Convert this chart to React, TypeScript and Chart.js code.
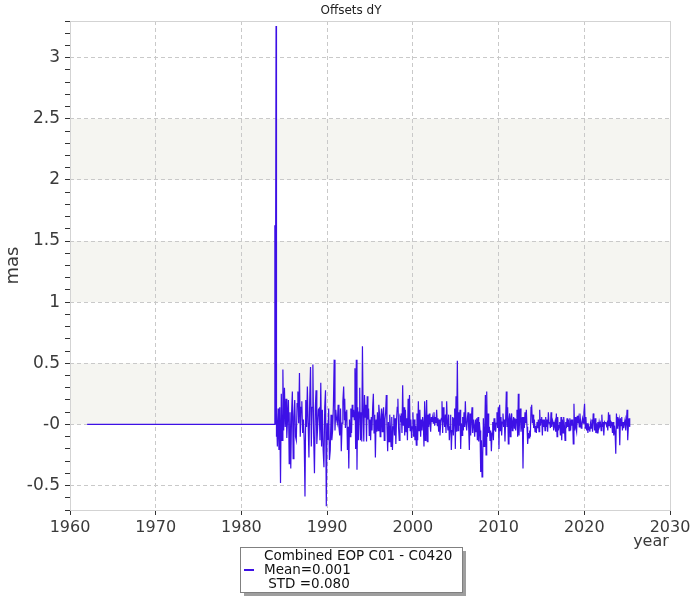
import React, { useEffect, useRef } from "react";
import { Chart, registerables } from "chart.js";

Chart.register(...registerables);

// ---- data ----
const titleText = "Offsets dY";
const yAxisTitle = "mas";
const xAxisTitle = "year";
const legendLines = ["Combined EOP C01 - C0420", "Mean=0.001", " STD =0.080"];

const xMin = 1960;
const xMax = 2030;
const xStep = 10;
const yMin = -0.7;
const yMax = 3.3;
const yMinorStep = 0.1;
const yMajorValues = [-0.5, 0, 0.5, 1, 1.5, 2, 2.5, 3];
const yMajorLabels = ["-0.5", "-0", "0.5", "1", "1.5", "2", "2.5", "3"];

const bandLows = [0, 1, 2];
const bandHighs = [0.5, 1.5, 2.5];

const flatYears = [1962.0, 1983.88];
const flatValues = [0, 0];

const spikeYears = [1983.9, 1983.95, 1984.04, 1984.08];
const spikeValues = [1.63, 0.0, 3.26, -0.1];

const seg1Range = [1984.1, 1992.02];
const seg1Values = [
  0.1, -0.18, 0.13, -0.21, 0.14, -0.48, 0.25, -0.13, 0.45, -0.05, 0.3, -0.02, 0.21, -0.11, 0.06,
  0.2, -0.32, 0.1, -0.36, 0.09, 0.27, -0.28, 0.06, 0.2, -0.1, -0.13, 0.17, 0.27, 0.01, 0.42,
  -0.1, 0.14, 0.19, -0.07, 0.04, -0.13, -0.59, 0.2, -0.02, 0.31, 0.01, -0.27, 0.2, 0.47, -0.18,
  0.14, 0.49, -0.1, -0.4, 0.12, 0.28, -0.16, -0.03, 0.12, 0.13, -0.13, 0.34, -0.18, 0.12, -0.21,
  -0.35, 0.14, 0.28, -0.67, 0.01, -0.13, 0.13, -0.29, -0.21, 0.08, -0.13, -0.05, 0.16, 0.53, -0.05,
  0.12, 0.04, 0.01, 0.16, -0.02, -0.09, 0.13, -0.22, 0.01, 0.19, 0.31, 0.04,
];

const seg2Range = [1992.05, 2000.8];
const seg2Values = [
  0.21, -0.03, 0.1, 0.12, -0.21, -0.02, -0.36, 0.04, -0.1, 0.13, -0.07, 0.16, 0.06, 0.12, 0.04,
  0.46, -0.2, 0.53, -0.37, 0.14, -0.13, 0.1, 0.3, -0.13, 0.1, -0.14, 0.64, 0.09, -0.14, 0.24,
  0.06, 0.16, -0.14, 0.23, 0.04, 0.13, -0.09, 0.04, -0.13, 0.06, -0.05, 0.14, 0.25, -0.07, 0.08,
  -0.27, 0.04, -0.06, 0.1, -0.05, 0.16, 0.09, -0.1, 0.04, 0.13, -0.06, 0.08, 0.14, -0.13, 0.04,
  0.1, 0.24, -0.02, -0.22, 0.02, -0.14, 0.08, -0.02, -0.18, 0.06, -0.21, -0.02, 0.08, -0.09, 0.05,
  -0.16, 0.04, 0.14, 0.21, -0.03, -0.13, 0.06, 0.04, 0.09, -0.07, 0.32, -0.01, 0.14, -0.09, 0.12,
  -0.06, 0.05, -0.13, 0.21, -0.03, 0.24, -0.05, 0.04, -0.11, -0.02, 0.1, -0.1, 0.04, -0.13, -0.01,
  -0.17, 0.09, -0.13, 0.19, -0.05, 0.12,
];

const seg3Range = [2000.83, 2009.55];
const seg3Values = [
  0.12, -0.1, 0.04, -0.05, 0.06, 0.01, -0.18, 0.19, -0.13, 0.04, 0.2, -0.14, 0.08, -0.02, 0.09,
  0.01, -0.06, 0.06, 0.02, 0.06, 0.01, 0.1, -0.01, 0.06, 0.01, 0.12, -0.01, 0.05, -0.06, 0.04,
  -0.09, 0.01, 0.05, 0.19, -0.07, 0.14, 0.04, -0.02, 0.08, -0.07, 0.19, 0.01, -0.05, 0.08, -0.13,
  -0.02, 0.08, -0.21, -0.05, 0.06, -0.09, 0.05, 0.13, -0.2, 0.23, -0.06, 0.52, -0.05, 0.1, -0.01,
  0.12, -0.2, 0.01, -0.09, 0.06, -0.05, 0.1, -0.02, 0.19, 0.01, -0.05, 0.05, 0.1, -0.03, -0.21,
  0.09, -0.09, 0.04, 0.14, -0.07, 0.04, -0.01, -0.1, 0.04, -0.06, 0.05, -0.13, 0.06, -0.14, 0.02,
  -0.05, -0.39, -0.13, -0.43, -0.27, 0.05, -0.18, -0.07, 0.24, -0.25, 0.27, -0.1, 0.09, -0.07, -0.02,
  -0.13, -0.05, -0.22, -0.07, 0.02, -0.13, 0.05, -0.05,
];

const seg4Range = [2009.58, 2018.3];
const seg4Values = [
  0.04, -0.06, 0.01, 0.1, -0.03, 0.14, -0.2, 0.16, -0.05, 0.06, -0.09, 0.02, 0.09, -0.02, 0.04,
  -0.14, 0.04, 0.27, -0.02, 0.14, -0.16, 0.04, 0.09, -0.1, 0.05, 0.09, -0.05, 0.02, 0.06, -0.03,
  0.05, -0.05, 0.04, 0.12, -0.1, 0.25, -0.09, 0.05, 0.13, -0.06, 0.01, 0.06, -0.36, 0.06, -0.03,
  0.1, 0.01, 0.12, -0.02, -0.16, -0.07, -0.11, -0.05, -0.1, 0.14, 0.16, 0.01, 0.08, -0.03, 0.04,
  -0.06, -0.01, -0.07, 0.02, -0.03, 0.04, -0.06, 0.12, -0.01, 0.04, 0.06, -0.09, 0.04, -0.02, 0.04,
  -0.05, 0.06, -0.02, 0.04, -0.06, 0.1, 0.01, 0.02, -0.03, 0.1, -0.02, 0.04, 0.02, -0.05, -0.01,
  0.02, -0.06, 0.09, -0.1, 0.06, -0.05, -0.01, 0.02, -0.09, 0.06, -0.13, 0.04, -0.07, 0.06, -0.01,
  -0.13, 0.02, -0.03, 0.05, -0.02, 0.04, -0.05, 0.02,
];

const seg5Range = [2018.33, 2025.3];
const seg5Values = [
  0.05, -0.05, 0.04, -0.01, 0.04, -0.16, 0.17, -0.05, 0.06, -0.03, -0.06, 0.07, 0.01, 0.05, -0.02,
  0.09, 0.02, -0.03, 0.02, 0.05, 0.01, 0.1, 0.17, -0.03, 0.06, -0.05, 0.01, -0.07, -0.01, -0.03,
  -0.06, 0.01, -0.03, 0.04, -0.06, 0.09, 0.04, -0.05, 0.05, -0.07, 0.01, -0.07, 0.02, -0.03, 0.02,
  -0.01, 0.01, -0.05, 0.08, -0.02, 0.02, -0.09, 0.02, 0.01, 0.02, -0.01, 0.01, -0.05, 0.1, -0.01,
  0.08, -0.03, 0.02, 0.01, -0.07, 0.02, -0.09, -0.01, -0.07, -0.24, 0.09, -0.03, 0.06, 0.01, 0.04,
  -0.17, 0.05, -0.01, 0.06, -0.05, 0.02, -0.03, 0.01, 0.04, -0.05, 0.02, 0.12, -0.13, -0.01, 0.05,
  -0.02,
];

// ---- styles ----
const FONT = "'DejaVu Sans', Verdana, sans-serif";
const LINE_COLOR = "#3d10e6";
const BAND_COLOR = "#f5f5f1";
const GRID_COLOR = "#c9c9c9";
const FRAME_COLOR = "#d3d3d3";
const TEXT_COLOR = "#3a3a3a";

function spread(range: number[], values: number[]) {
  const n = values.length;
  return values.map((v, i) => ({ x: range[0] + ((range[1] - range[0]) * i) / (n - 1), y: v }));
}

function buildPoints() {
  const pts: { x: number; y: number }[] = [];
  flatYears.forEach((x, i) => pts.push({ x, y: flatValues[i] }));
  spikeYears.forEach((x, i) => pts.push({ x, y: spikeValues[i] }));
  pts.push(...spread(seg1Range, seg1Values));
  pts.push(...spread(seg2Range, seg2Values));
  pts.push(...spread(seg3Range, seg3Values));
  pts.push(...spread(seg4Range, seg4Values));
  pts.push(...spread(seg5Range, seg5Values));
  return pts;
}

const isMajorY = (v: number) => Math.abs(v * 2 - Math.round(v * 2)) < 1e-6;

const decorPlugin = {
  id: "decor",
  beforeDraw(chart: any) {
    const { ctx, chartArea: a, scales } = chart;
    const y = scales.y;
    ctx.save();
    ctx.fillStyle = "#ffffff";
    ctx.fillRect(0, 0, chart.width, chart.height);
    ctx.fillStyle = BAND_COLOR;
    bandLows.forEach((lo, i) => {
      const top = y.getPixelForValue(bandHighs[i]);
      const bot = y.getPixelForValue(lo);
      ctx.fillRect(a.left, top, a.right - a.left, bot - top);
    });
    ctx.restore();
  },
  afterDraw(chart: any) {
    const { ctx, chartArea: a } = chart;
    ctx.save();
    // frame
    ctx.strokeStyle = FRAME_COLOR;
    ctx.lineWidth = 1;
    ctx.strokeRect(Math.round(a.left) + 0.5, Math.round(a.top) + 0.5, Math.round(a.right - a.left), Math.round(a.bottom - a.top));
    // title
    ctx.fillStyle = "#222";
    ctx.font = `12px ${FONT}`;
    ctx.textAlign = "center";
    ctx.textBaseline = "middle";
    ctx.fillText(titleText, 351, 11);
    // x axis title
    ctx.fillStyle = TEXT_COLOR;
    ctx.font = `16px ${FONT}`;
    ctx.fillText(xAxisTitle, 651, 542);
    // legend
    const bx = 240, by = 547, bw = 222, bh = 45;
    ctx.fillStyle = "rgba(0,0,0,0.38)";
    ctx.fillRect(bx + 4, by + 4, bw, bh);
    ctx.fillStyle = "#ffffff";
    ctx.fillRect(bx, by, bw, bh);
    ctx.strokeStyle = "#808080";
    ctx.strokeRect(bx + 0.5, by + 0.5, bw, bh);
    ctx.strokeStyle = LINE_COLOR;
    ctx.lineWidth = 2;
    ctx.beginPath();
    ctx.moveTo(244, 570);
    ctx.lineTo(254, 570);
    ctx.stroke();
    ctx.fillStyle = "#111";
    ctx.font = `13.5px ${FONT}`;
    ctx.textAlign = "left";
    legendLines.forEach((t, i) => ctx.fillText(t, 264, 556 + i * 14));
    ctx.restore();
  },
};

export default function App() {
  const canvasRef = useRef<HTMLCanvasElement | null>(null);

  useEffect(() => {
    document.body.style.margin = "0";
    const canvas = canvasRef.current;
    if (!canvas) return;
    const chart = new Chart(canvas, {
      type: "line",
      data: {
        datasets: [
          {
            data: buildPoints(),
            borderColor: LINE_COLOR,
            borderWidth: 1.2,
            pointRadius: 0,
            tension: 0,
            fill: false,
          },
        ],
      },
      options: {
        animation: false,
        responsive: false,
        devicePixelRatio: 1,
        parsing: false as any,
        normalized: true,
        layout: { padding: { left: 0, right: 30, top: 21, bottom: 60 } },
        plugins: {
          legend: { display: false },
          title: { display: false },
          tooltip: { enabled: false },
        },
        scales: {
          x: {
            type: "linear",
            min: xMin,
            max: xMax,
            afterFit: (s: any) => {
              s.height = 30;
            },
            border: { display: false, dash: [4, 3] },
            grid: {
              color: (c: any) =>
                c.tick && (c.tick.value === xMin || c.tick.value === xMax) ? "rgba(0,0,0,0)" : GRID_COLOR,
              tickColor: "#333",
              tickLength: 5,
              lineWidth: 1,
            },
            ticks: {
              stepSize: xStep,
              autoSkip: false,
              maxRotation: 0,
              padding: 3,
              color: TEXT_COLOR,
              font: { family: FONT, size: 16 },
              callback: (v: any) => String(v),
            },
          },
          y: {
            type: "linear",
            min: yMin,
            max: yMax,
            afterFit: (s: any) => {
              s.width = 70;
            },
            border: { display: false, dash: [4, 3] },
            grid: {
              color: (c: any) => (c.tick && isMajorY(c.tick.value) ? GRID_COLOR : "rgba(0,0,0,0)"),
              tickColor: "#333",
              tickLength: 5,
              lineWidth: 1,
            },
            ticks: {
              stepSize: yMinorStep,
              autoSkip: false,
              padding: 5,
              color: TEXT_COLOR,
              font: { family: FONT, size: 17 },
              callback: (v: any) => {
                const idx = yMajorValues.findIndex((m) => Math.abs(m - Number(v)) < 1e-6);
                return idx >= 0 ? yMajorLabels[idx] : "";
              },
            },
            title: {
              display: true,
              text: yAxisTitle,
              color: TEXT_COLOR,
              font: { family: FONT, size: 18 },
              padding: { top: 3, bottom: 0 },
            },
          },
        },
      },
      plugins: [decorPlugin],
    });
    return () => chart.destroy();
  }, []);

  return (
    <div style={{ width: 700, height: 600 }}>
      <canvas ref={canvasRef} width={700} height={600} style={{ width: 700, height: 600, display: "block" }} />
    </div>
  );
}
